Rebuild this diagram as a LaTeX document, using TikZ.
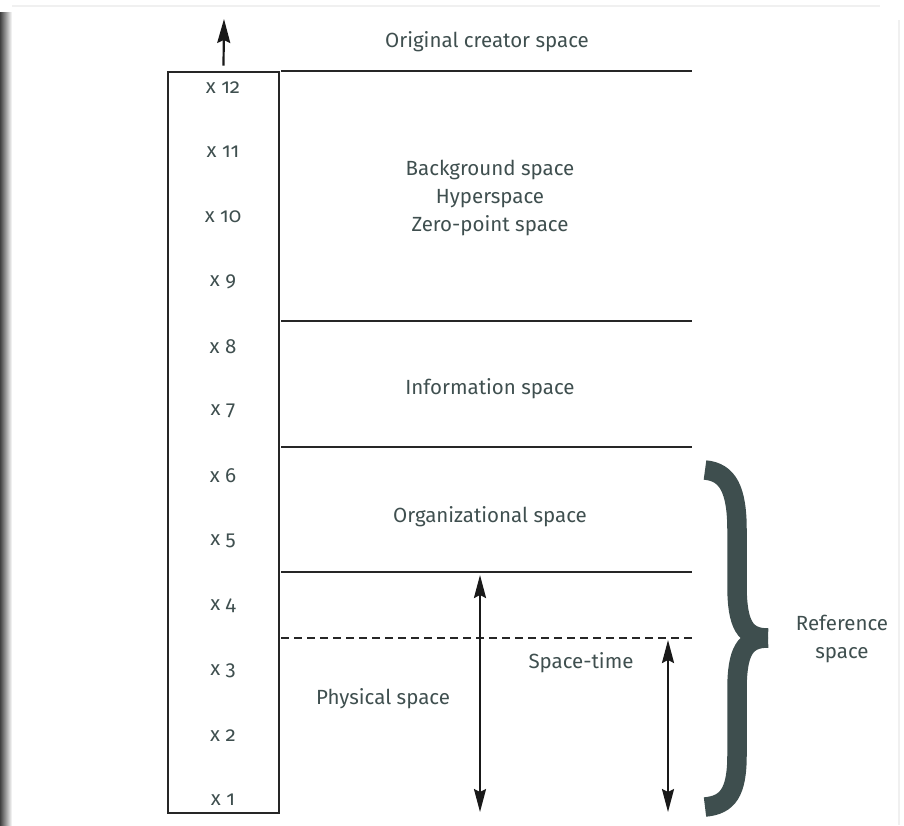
\documentclass[tikz,border=0pt]{standalone}
\usepackage{fontspec}
\setmainfont[Numbers=OldStyle]{Fira Sans}
\usetikzlibrary{arrows.meta}
\definecolor{slate}{HTML}{3F4F4F}
\definecolor{bracecol}{HTML}{3E4E4E}

\begin{document}
\begin{tikzpicture}
      [x=1pt,y=-1pt
      ,lin/.style={color=black!85,line width=2.8pt}
      ,lindash/.style={lin,dash pattern=on 8pt off 5pt}
      ,tip/.style={Stealth[length=23pt,width=12pt,inset=3pt]}
      ,arr/.style={color=black!90,line width=2.2pt,{Stealth[length=23pt,width=12pt,inset=3pt]}-{Stealth[length=23pt,width=12pt,inset=3pt]}}
      ,txt/.style={text=slate,font=\fontsize{20.5}{28}\selectfont,align=center,inner sep=0pt}
      ,brace/.style={color=bracecol,line width=19.5pt}
      ]
        \useasboundingbox (0,0) rectangle (904,825);
        % screen frame
        \shade[left color=black!75,right color=white] (0,12) rectangle (12,825);
        \draw[black!6,line width=2pt] (12,6) -- (880,6);
        \draw[black!6,line width=2pt] (899,20) -- (899,825);

        % the column of levels
        \node[draw=black!85,line width=2.8pt,minimum width=111pt,minimum height=741pt,inner sep=0pt] (col) at (223.5,442.5) {};
        \coordinate (up) at (224,19);
        \draw[color=black!90,line width=2.2pt,-{Stealth[length=24pt,width=13pt,inset=3pt]}] ([yshift=5pt]col.north) -- (up);
        \foreach \i in {1,...,12}{
            \node[txt] (x\i) at (223,{800-(\i-1)*64.8}) {x \i};
        }

        % space borders
        \foreach \n/\y in {a/71,b/321,c/447,d/572}{
            \coordinate (l\n) at (281,\y);
            \coordinate (r\n) at (692,\y);
            \draw[lin] (l\n) -- (r\n);
        }
        \coordinate (le) at (281,638);
        \coordinate (re) at (692,638);
        \draw[lindash] (le) -- (re);

        % names of the spaces
        \node[txt] (creator) at (487,42) {Original creator space};
        \node[txt] (background) at (490,198) {Background space\\Hyperspace\\Zero-point space};
        \node[txt] (information) at (490,389) {Information space};
        \node[txt] (organizational) at (490,517) {Organizational space};
        \node[txt] (physical) at (383,699) {Physical space};
        \node[txt] (spacetime) at (581,663) {Space-time};
        \node[txt] (reference) at (842,639) {Reference\\space};

        % extents
        \coordinate (pt) at (480,575);
        \coordinate (pb) at (480,812);
        \coordinate (st) at (668,640);
        \coordinate (sb) at (668,812);
        \draw[arr] (pt) -- (pb);
        \draw[arr] (st) -- (sb);

        % brace, in two halves
        \coordinate (bt) at (705,470);
        \coordinate (bm) at (768,638);
        \coordinate (bb) at (705,807);
        \draw[brace] (bt) .. controls (728,472) and (737,490) .. (737,530)
            -- (737,585) .. controls (737,625) and (745,638) .. (bm);
        \draw[brace] (bm) .. controls (745,638) and (737,651) .. (737,690)
            -- (737,755) .. controls (737,792) and (728,805) .. (bb);
      \end{tikzpicture}
\end{document}
